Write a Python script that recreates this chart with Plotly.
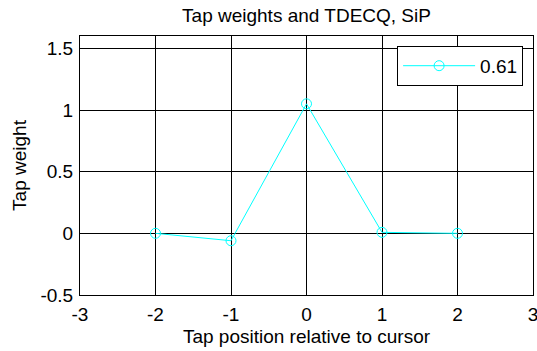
import plotly.graph_objects as go

# Equalizer tap positions (relative to cursor) and their weights
tap_positions = [-2, -1, 0, 1, 2]
tap_weights = [0.0, -0.06, 1.05, 0.008, 0.0]
tdecq_label = "0.61"

x_ticks = [-3, -2, -1, 0, 1, 2, 3]
y_ticks = [-0.5, 0, 0.5, 1, 1.5]

FS = 19
font = dict(family="Liberation Sans, Arial, sans-serif", size=FS, color="black")

fig = go.Figure()
fig.add_trace(go.Scatter(
    x=tap_positions,
    y=tap_weights,
    mode="lines+markers",
    name=tdecq_label,
    line=dict(color="#00FFFF", width=1),
    marker=dict(symbol="circle-open", size=10, color="#00FFFF", line=dict(width=1)),
))

axis_common = dict(
    showgrid=True,
    gridcolor="black",
    gridwidth=1,
    zeroline=False,
    showline=True,
    linecolor="black",
    linewidth=1,
    mirror="ticks",
    ticks="inside",
    ticklen=5,
    tickcolor="black",
    tickfont=font,
    ticklabeloverflow="allow",
    automargin=False,
)

fig.update_layout(
    width=537,
    height=351,
    margin=dict(l=80, r=4, t=36, b=56),
    paper_bgcolor="white",
    plot_bgcolor="white",
    font=font,
    title=dict(text="Tap weights and TDECQ, SiP", xref="paper", x=0.5, xanchor="center",
               y=0.957, yanchor="middle", font=dict(size=FS)),
    xaxis=dict(range=[-3, 3], tickvals=x_ticks, ticktext=[str(v) for v in x_ticks],
               ticklabelstandoff=2,
               title=dict(text="Tap position relative to cursor", standoff=5, font=dict(size=FS)),
               **axis_common),
    yaxis=dict(range=[-0.5, 1.6], tickvals=y_ticks, ticktext=["-0.5", "0", "0.5", "1", "1.5"],
               ticklabelstandoff=2,
               title=dict(text="Tap weight", standoff=8, font=dict(size=FS)),
               **axis_common),
    showlegend=True,
    legend=dict(x=0.70, y=0.962, xanchor="left", yanchor="top",
                bgcolor="white", bordercolor="black", borderwidth=1,
                font=dict(size=FS), itemwidth=72),
)

fig.write_html("out.html")
